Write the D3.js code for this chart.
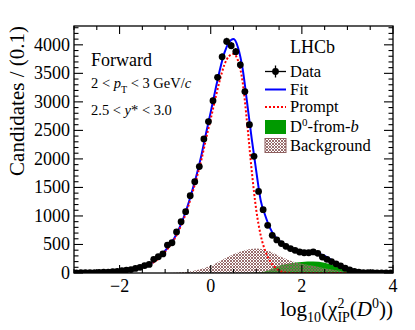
<!DOCTYPE html>
<meta charset="utf-8">
<style>
body { margin: 0; background: white; }
svg text { font-family: "Liberation Serif", "DejaVu Serif", serif; fill: black; }
</style>
<body>
<svg id="chart" width="415" height="330"></svg>
<script src="https://d3js.org/d3.v7.min.js"></script>
<script>
// data: bin centres (width 0.1) and counts
const binX = d3.range(70).map(i => -2.95 + i * 0.1);
const counts = [3, 4, 5, 6, 8, 10, 13, 17, 22, 30,
  40, 52, 60, 80, 100, 130, 150, 240, 285, 335,
  490, 530, 720, 900, 1075, 1355, 1600, 1865, 2350, 2655,
  3020, 3430, 3790, 4060, 3985, 3880, 3650, 3180, 2600, 2045,
  1430, 1110, 835, 660, 580, 515, 468, 428, 398, 368,
  355, 355, 370, 345, 280, 240, 200, 160, 125, 85,
  55, 28, 14, 8, 5, 4, 3, 2, 2, 1];

const fitX = [-3, -2.5, -2, -1.75, -1.5, -1.25, -1, -0.9, -0.8, -0.7, -0.6, -0.5, -0.4, -0.3, -0.2, -0.1, 0, 0.1, 0.2, 0.3, 0.4, 0.5, 0.6, 0.7, 0.8, 0.9, 1.0, 1.1, 1.2, 1.3, 1.4, 1.5, 1.75, 2.0, 2.25, 2.5, 2.75, 3.0, 3.25, 3.5, 3.75, 4];
const fitY = [3, 9, 32, 55, 105, 200, 390, 490, 610, 770, 960, 1190, 1460, 1750, 2080, 2460, 2820, 3200, 3560, 3860, 4040, 4100, 3950, 3580, 2980, 2350, 1780, 1260, 1000, 790, 650, 565, 445, 380, 360, 300, 175, 70, 20, 6, 2, 1];

const promptX = [-3, -2.5, -2, -1.75, -1.5, -1.25, -1, -0.9, -0.8, -0.7, -0.6, -0.5, -0.4, -0.3, -0.2, -0.1, 0, 0.1, 0.2, 0.3, 0.4, 0.5, 0.6, 0.7, 0.8, 0.9, 1.0, 1.1, 1.2, 1.3, 1.4, 1.5, 1.6, 1.75, 2, 3, 4];
const promptY = [3, 9, 30, 52, 100, 190, 370, 470, 590, 745, 930, 1150, 1410, 1690, 2000, 2360, 2700, 3050, 3380, 3650, 3800, 3840, 3720, 3350, 2620, 1790, 1100, 650, 380, 210, 110, 45, 15, 3, 0, 0, 0];

const fromBX = [0.75, 1.0, 1.25, 1.5, 1.75, 2.0, 2.25, 2.5, 2.75, 3.0, 3.25, 3.5];
const fromBY = [0, 8, 40, 125, 170, 195, 200, 180, 120, 50, 12, 0];

const bkgX = [-1, -0.75, -0.5, -0.25, 0, 0.25, 0.5, 0.75, 1.0, 1.25, 1.5, 1.75, 2.0, 2.25, 2.5, 2.75, 3.0, 3.25, 3.5, 4];
const bkgY = [0, 5, 20, 60, 125, 230, 330, 400, 430, 395, 300, 215, 160, 125, 85, 50, 22, 6, 1, 0];

const xMajor = [-2, 0, 2, 4];
const yMajor = [0, 500, 1000, 1500, 2000, 2500, 3000, 3500, 4000];

const L = 74, R = 393, T = 26, B = 273;
const svg = d3.select("#chart");

const x = d3.scaleLinear().domain([-3, 4]).range([L, R]);
const y = d3.scaleLinear().domain([0, 4330]).range([B, T]);

const defs = svg.append("defs");
defs.append("clipPath").attr("id", "clip")
  .append("rect").attr("x", L).attr("y", T).attr("width", R - L).attr("height", B - T);
const pat = defs.append("pattern").attr("id", "hatch")
  .attr("width", 3).attr("height", 3).attr("patternUnits", "userSpaceOnUse");
pat.append("rect").attr("width", 3).attr("height", 3).attr("fill", "rgba(255,255,255,0.15)");
pat.append("path").attr("d", "M0,0L3,3M3,0L0,3").attr("stroke", "#8e5f5f").attr("stroke-width", 0.9);

const plot = svg.append("g").attr("clip-path", "url(#clip)");

const area = (xs, ys) => d3.area()
  .x((d, i) => x(xs[i])).y0(y(0)).y1(d => y(d))
  .curve(d3.curveMonotoneX)(ys);
const line = (xs, ys) => d3.line()
  .x((d, i) => x(xs[i])).y(d => y(d))
  .curve(d3.curveMonotoneX)(ys);

plot.append("path").attr("d", area(fromBX, fromBY)).attr("fill", "#009a00");
plot.append("path").attr("d", area(bkgX, bkgY)).attr("fill", "url(#hatch)");

plot.append("path").attr("d", line(fitX, fitY))
  .attr("fill", "none").attr("stroke", "#0000ff").attr("stroke-width", 2);
plot.append("path").attr("d", line(promptX, promptY))
  .attr("fill", "none").attr("stroke", "#ff0000").attr("stroke-width", 2)
  .attr("stroke-dasharray", "2,2");

// data points with errors
const pts = plot.append("g");
binX.forEach((bx, i) => {
  const c = counts[i], e = Math.sqrt(c);
  pts.append("line").attr("x1", x(bx - 0.05)).attr("x2", x(bx + 0.05))
    .attr("y1", y(c)).attr("y2", y(c)).attr("stroke", "black").attr("stroke-width", 1.2);
  pts.append("line").attr("x1", x(bx)).attr("x2", x(bx))
    .attr("y1", y(c - e)).attr("y2", y(c + e)).attr("stroke", "black").attr("stroke-width", 1.2);
  pts.append("circle").attr("cx", x(bx)).attr("cy", y(c)).attr("r", 3.4).attr("fill", "black");
});

// frame and ticks (inward on all sides)
svg.append("rect").attr("x", L).attr("y", T).attr("width", R - L).attr("height", B - T)
  .attr("fill", "none").attr("stroke", "black").attr("stroke-width", 1.3);

const ticks = svg.append("g").attr("stroke", "black").attr("stroke-width", 1.1);
d3.range(-3, 4.01, 0.5).forEach(v => {
  const len = xMajor.includes(v) ? 8 : 4;
  ticks.append("line").attr("x1", x(v)).attr("x2", x(v)).attr("y1", B).attr("y2", B - len);
  ticks.append("line").attr("x1", x(v)).attr("x2", x(v)).attr("y1", T).attr("y2", T + len);
});
d3.range(0, 4301, 100).forEach(v => {
  const len = v % 500 === 0 ? 9 : 4.5;
  ticks.append("line").attr("x1", L).attr("x2", L + len).attr("y1", y(v)).attr("y2", y(v));
  ticks.append("line").attr("x1", R).attr("x2", R - len).attr("y1", y(v)).attr("y2", y(v));
});

svg.append("g").selectAll("text").data(xMajor).join("text")
  .attr("x", d => x(d)).attr("y", 292).attr("text-anchor", "middle")
  .attr("font-size", 18).text(d => d < 0 ? "\u2212" + Math.abs(d) : d);
svg.append("g").selectAll("text").data(yMajor).join("text")
  .attr("x", 70).attr("y", d => y(d) + 6).attr("text-anchor", "end")
  .attr("font-size", 18).text(d => d);

// axis titles
svg.append("text").attr("transform", "translate(24,26) rotate(-90)")
  .attr("text-anchor", "end").attr("font-size", 21).text("Candidates / (0.1)");

const xt = svg.append("text").attr("x", 393).attr("y", 316).attr("text-anchor", "end").attr("font-size", 21);
xt.append("tspan").text("log");
xt.append("tspan").attr("font-size", 14).attr("dy", 6).text("10");
xt.append("tspan").attr("dy", -6).text("(\u03c7");
xt.append("tspan").attr("font-size", 14).attr("dy", -8).text("2");
xt.append("tspan").attr("font-size", 14).attr("dx", -7).attr("dy", 14).text("IP");
xt.append("tspan").attr("dy", -6).text("(");
xt.append("tspan").attr("font-style", "italic").text("D");
xt.append("tspan").attr("font-size", 14).attr("dy", -8).text("0");
xt.append("tspan").attr("dy", 8).text("))");

// labels top-left
svg.append("text").attr("x", 91).attr("y", 66).attr("font-size", 18).text("Forward");
const t2 = svg.append("text").attr("x", 91).attr("y", 88).attr("font-size", 14.5);
t2.append("tspan").text("2 < ");
t2.append("tspan").attr("font-style", "italic").text("p");
t2.append("tspan").attr("font-size", 10).attr("dy", 5).text("T");
t2.append("tspan").attr("dy", -5).text(" < 3 GeV/");
t2.append("tspan").attr("font-style", "italic").text("c");
const t3 = svg.append("text").attr("x", 91).attr("y", 115).attr("font-size", 14.5);
t3.append("tspan").text("2.5 < ");
t3.append("tspan").attr("font-style", "italic").text("y");
t3.append("tspan").text("* < 3.0");

// legend
svg.append("text").attr("x", 290).attr("y", 53).attr("font-size", 18).text("LHCb");
const rowY = [71.5, 89.5, 107, 127, 145.5];
const leg = svg.append("g");
leg.append("line").attr("x1", 265).attr("x2", 286).attr("y1", rowY[0]).attr("y2", rowY[0])
  .attr("stroke", "black").attr("stroke-width", 1.3);
leg.append("line").attr("x1", 275.5).attr("x2", 275.5).attr("y1", rowY[0] - 6).attr("y2", rowY[0] + 6)
  .attr("stroke", "black").attr("stroke-width", 1.3);
leg.append("circle").attr("cx", 275.5).attr("cy", rowY[0]).attr("r", 3.4).attr("fill", "black");
leg.append("line").attr("x1", 265).attr("x2", 286).attr("y1", rowY[1]).attr("y2", rowY[1])
  .attr("stroke", "#0000ff").attr("stroke-width", 2);
leg.append("line").attr("x1", 265).attr("x2", 286).attr("y1", rowY[2]).attr("y2", rowY[2])
  .attr("stroke", "#ff0000").attr("stroke-width", 2).attr("stroke-dasharray", "2,2");
leg.append("rect").attr("x", 265).attr("y", rowY[3] - 7).attr("width", 21).attr("height", 14)
  .attr("fill", "#009a00");
leg.append("rect").attr("x", 265).attr("y", rowY[4] - 7).attr("width", 21).attr("height", 14)
  .attr("fill", "url(#hatch)").attr("stroke", "#8e5f5f").attr("stroke-width", 1);

const legText = leg.append("g").attr("font-size", 16.5);
legText.append("text").attr("x", 290).attr("y", rowY[0] + 5).text("Data");
legText.append("text").attr("x", 290).attr("y", rowY[1] + 5).text("Fit");
legText.append("text").attr("x", 290).attr("y", rowY[2] + 5).text("Prompt");
const d0 = legText.append("text").attr("x", 290).attr("y", rowY[3] + 5);
d0.append("tspan").text("D");
d0.append("tspan").attr("font-size", 11).attr("dy", -6).text("0");
d0.append("tspan").attr("dy", 6).text("-from-");
d0.append("tspan").attr("font-style", "italic").text("b");
legText.append("text").attr("x", 290).attr("y", rowY[4] + 5).text("Background");
</script>
</body>
